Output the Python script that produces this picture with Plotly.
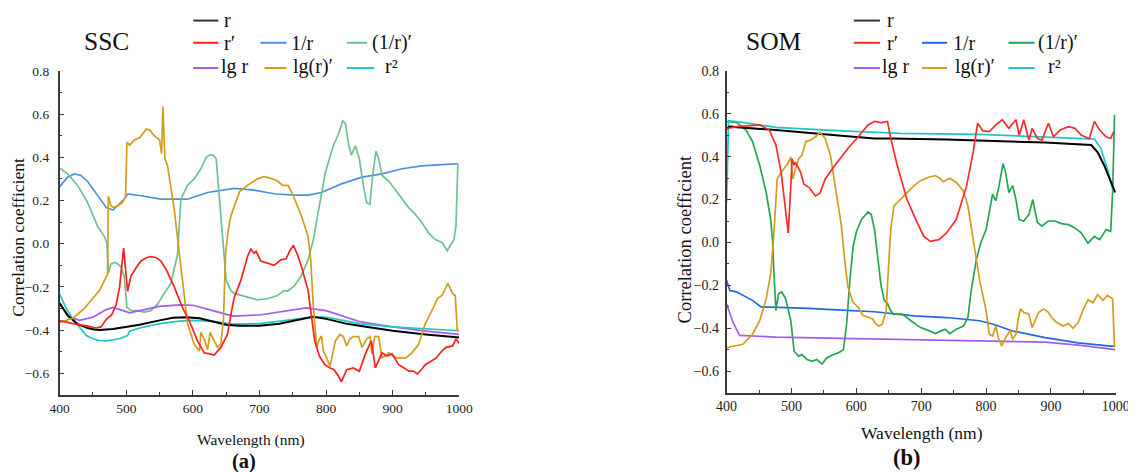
import plotly.graph_objects as go

W, H = 1136, 472

# ---------------- data: SSC (panel a) ----------------
ssc_r_wl = [400, 412, 427, 442, 452, 460, 480, 500, 520, 550, 570, 590, 610, 630, 650, 670, 700, 730, 760, 780, 800, 830, 850, 880, 900, 950, 1000]
ssc_r_val = [-0.275, -0.333, -0.372, -0.39, -0.397, -0.40, -0.395, -0.385, -0.375, -0.355, -0.343, -0.34, -0.345, -0.36, -0.375, -0.38, -0.38, -0.37, -0.35, -0.338, -0.348, -0.37, -0.38, -0.395, -0.403, -0.42, -0.434]

ssc_rp_wl = [400, 420, 440, 455, 462, 470, 478, 485, 490, 496, 502, 507, 515, 522, 530, 537, 545, 552, 560, 572, 585, 595, 607, 617, 625, 632, 642, 652, 657, 662, 672, 682, 687, 692, 695, 702, 712, 722, 732, 740, 746, 751, 757, 763, 773, 783, 790, 798, 806, 812, 818, 823, 831, 841, 850, 859, 868, 874, 884, 891, 899, 909, 917, 924, 931, 937, 944, 949, 957, 965, 973, 980, 990, 995, 1000]
ssc_rp_val = [-0.356, -0.37, -0.38, -0.39, -0.385, -0.35, -0.33, -0.28, -0.2, -0.02, -0.22, -0.15, -0.11, -0.08, -0.065, -0.06, -0.065, -0.08, -0.12, -0.2, -0.3, -0.36, -0.45, -0.505, -0.51, -0.515, -0.48, -0.42, -0.33, -0.25, -0.17, -0.06, -0.025, -0.044, -0.035, -0.08, -0.09, -0.1, -0.075, -0.07, -0.03, -0.008, -0.05, -0.106, -0.216, -0.45, -0.52, -0.56, -0.575, -0.583, -0.61, -0.64, -0.583, -0.575, -0.59, -0.51, -0.45, -0.575, -0.505, -0.52, -0.51, -0.56, -0.575, -0.59, -0.59, -0.603, -0.58, -0.56, -0.545, -0.53, -0.5, -0.48, -0.473, -0.442, -0.46]

ssc_inv_wl = [400, 412, 422, 432, 442, 457, 470, 480, 487, 497, 502, 522, 552, 592, 622, 662, 692, 724, 754, 773, 793, 823, 854, 884, 914, 944, 974, 998]
ssc_inv_val = [0.264, 0.308, 0.323, 0.316, 0.288, 0.222, 0.167, 0.156, 0.175, 0.206, 0.23, 0.222, 0.206, 0.206, 0.237, 0.256, 0.248, 0.23, 0.225, 0.225, 0.237, 0.277, 0.308, 0.323, 0.347, 0.36, 0.366, 0.37]

ssc_invp_wl = [400, 412, 427, 442, 457, 467, 471, 473, 477, 484, 492, 497, 501, 507, 517, 527, 537, 547, 557, 567, 577, 582, 592, 602, 612, 620, 625, 630, 635, 640, 646, 650, 657, 662, 682, 697, 712, 727, 737, 742, 752, 762, 773, 781, 789, 799, 811, 819, 825, 829, 834, 838, 844, 850, 856, 861, 866, 870, 875, 879, 884, 894, 904, 914, 924, 934, 944, 954, 964, 974, 982, 987, 992, 995, 998]
ssc_invp_val = [0.35, 0.323, 0.27, 0.19, 0.08, 0.034, 0.003, -0.137, -0.094, -0.087, -0.106, -0.153, -0.294, -0.31, -0.31, -0.317, -0.31, -0.28, -0.23, -0.184, -0.05, 0.206, 0.27, 0.30, 0.347, 0.40, 0.41, 0.41, 0.394, 0.206, -0.01, -0.17, -0.216, -0.23, -0.247, -0.26, -0.255, -0.24, -0.216, -0.22, -0.197, -0.153, -0.075, 0.02, 0.16, 0.33, 0.456, 0.51, 0.569, 0.558, 0.456, 0.41, 0.453, 0.394, 0.27, 0.19, 0.183, 0.316, 0.428, 0.394, 0.316, 0.29, 0.25, 0.206, 0.167, 0.136, 0.097, 0.05, 0.019, 0.006, -0.033, -0.005, 0.019, 0.08, 0.37]

ssc_lg_wl = [400, 415, 430, 450, 470, 480, 495, 505, 520, 550, 580, 600, 630, 660, 700, 740, 770, 800, 830, 850, 900, 950, 1000]
ssc_lg_val = [-0.28, -0.34, -0.355, -0.34, -0.305, -0.295, -0.31, -0.32, -0.31, -0.29, -0.283, -0.285, -0.31, -0.335, -0.33, -0.31, -0.297, -0.31, -0.34, -0.36, -0.385, -0.405, -0.42]

ssc_lgp_wl = [400, 420, 437, 450, 460, 472, 473, 477, 481, 487, 494, 499, 501, 505, 512, 520, 530, 535, 542, 550, 553, 555, 558, 562, 572, 578, 585, 592, 602, 610, 612, 618, 622, 626, 632, 637, 642, 646, 649, 653, 657, 662, 670, 682, 697, 707, 717, 727, 735, 743, 751, 763, 773, 777, 781, 786, 789, 793, 796, 801, 806, 814, 821, 826, 831, 836, 841, 849, 854, 861, 866, 869, 873, 879, 884, 894, 907, 919, 929, 939, 949, 959, 967, 974, 983, 990, 994, 997, 999]
ssc_lgp_val = [-0.364, -0.345, -0.30, -0.25, -0.216, -0.14, 0.22, 0.175, 0.167, 0.175, 0.19, 0.22, 0.47, 0.456, 0.48, 0.49, 0.53, 0.527, 0.50, 0.48, 0.417, 0.636, 0.394, 0.36, 0.16, 0.0, -0.184, -0.37, -0.465, -0.497, -0.41, -0.45, -0.49, -0.41, -0.45, -0.48, -0.465, -0.35, -0.05, 0.06, 0.128, 0.175, 0.24, 0.27, 0.30, 0.31, 0.303, 0.29, 0.27, 0.27, 0.22, 0.128, 0.034, -0.075, -0.294, -0.48, -0.45, -0.427, -0.497, -0.53, -0.567, -0.45, -0.42, -0.43, -0.473, -0.44, -0.43, -0.43, -0.48, -0.44, -0.43, -0.51, -0.43, -0.43, -0.53, -0.505, -0.53, -0.53, -0.505, -0.466, -0.37, -0.31, -0.255, -0.24, -0.184, -0.23, -0.24, -0.40, -0.40]

ssc_sq_wl = [400, 410, 420, 430, 440, 450, 460, 470, 490, 502, 505, 520, 550, 580, 600, 630, 660, 700, 740, 780, 800, 850, 900, 950, 1000]
ssc_sq_val = [-0.234, -0.30, -0.35, -0.39, -0.425, -0.44, -0.448, -0.45, -0.44, -0.425, -0.405, -0.39, -0.37, -0.358, -0.355, -0.36, -0.372, -0.37, -0.355, -0.34, -0.34, -0.37, -0.385, -0.395, -0.403]

# ---------------- data: SOM (panel b) ----------------
som_r_wl = [400, 405, 476, 527, 577, 628, 653, 739, 841, 891, 962, 972, 982, 992, 999]
som_r_val = [0.53, 0.54, 0.524, 0.509, 0.497, 0.485, 0.485, 0.48, 0.469, 0.466, 0.454, 0.42, 0.36, 0.28, 0.233]

som_rp_wl = [400, 415, 451, 466, 476, 484, 489, 495, 499, 501, 504, 506, 514, 519, 527, 537, 544, 552, 567, 587, 603, 618, 628, 638, 648, 653, 663, 678, 694, 704, 714, 727, 739, 754, 770, 780, 787, 795, 805, 815, 825, 835, 846, 851, 858, 866, 871, 879, 886, 896, 904, 914, 927, 937, 947, 959, 967, 975, 985, 992, 997]
som_rp_val = [0.53, 0.54, 0.548, 0.524, 0.454, 0.328, 0.20, 0.044, 0.265, 0.39, 0.36, 0.375, 0.328, 0.272, 0.257, 0.217, 0.23, 0.296, 0.36, 0.438, 0.493, 0.548, 0.564, 0.559, 0.564, 0.485, 0.36, 0.20, 0.091, 0.028, 0.005, 0.013, 0.044, 0.107, 0.265, 0.42, 0.556, 0.52, 0.517, 0.548, 0.572, 0.532, 0.572, 0.50, 0.572, 0.477, 0.532, 0.485, 0.477, 0.556, 0.493, 0.524, 0.54, 0.532, 0.50, 0.485, 0.564, 0.524, 0.493, 0.485, 0.517]

som_inv_wl = [400, 405, 415, 430, 440, 453, 476, 527, 577, 628, 666, 689, 739, 790, 810, 841, 891, 942, 992, 999]
som_inv_val = [-0.176, -0.224, -0.23, -0.255, -0.27, -0.3, -0.302, -0.307, -0.315, -0.323, -0.335, -0.342, -0.35, -0.365, -0.38, -0.413, -0.444, -0.468, -0.483, -0.483]

som_invp_wl = [400, 415, 430, 440, 451, 461, 468, 471, 473, 476, 480, 485, 491, 499, 504, 511, 516, 524, 532, 539, 547, 554, 562, 572, 580, 585, 590, 595, 600, 608, 618, 623, 628, 634, 638, 643, 648, 653, 658, 666, 671, 684, 699, 711, 722, 732, 737, 744, 754, 765, 772, 777, 785, 792, 800, 810, 815, 820, 826, 830, 835, 841, 846, 851, 858, 866, 872, 879, 886, 896, 906, 916, 927, 937, 947, 957, 967, 975, 985, 992, 995, 998]
som_invp_val = [0.564, 0.56, 0.524, 0.47, 0.36, 0.233, 0.107, 0.0, -0.145, -0.318, -0.24, -0.23, -0.263, -0.365, -0.507, -0.53, -0.523, -0.546, -0.554, -0.546, -0.567, -0.54, -0.526, -0.515, -0.5, -0.38, -0.176, -0.02, 0.05, 0.107, 0.142, 0.13, 0.06, -0.08, -0.2, -0.27, -0.285, -0.318, -0.335, -0.334, -0.334, -0.365, -0.397, -0.41, -0.425, -0.41, -0.405, -0.425, -0.405, -0.39, -0.35, -0.224, -0.08, 0.0, 0.06, 0.225, 0.194, 0.265, 0.367, 0.328, 0.233, 0.265, 0.2, 0.107, 0.1, 0.13, 0.2, 0.094, 0.076, 0.1, 0.1, 0.088, 0.083, 0.068, 0.044, -0.003, 0.028, 0.013, 0.06, 0.052, 0.233, 0.595]

som_lg_wl = [400, 410, 420, 476, 577, 668, 739, 841, 891, 942, 999]
som_lg_val = [-0.287, -0.373, -0.433, -0.441, -0.447, -0.452, -0.455, -0.46, -0.465, -0.479, -0.5]

som_lgp_wl = [400, 425, 440, 451, 461, 468, 472, 476, 478, 486, 494, 499, 502, 506, 511, 516, 522, 529, 537, 544, 552, 560, 565, 572, 577, 582, 587, 595, 603, 610, 618, 625, 630, 635, 640, 646, 649, 653, 658, 668, 678, 689, 699, 711, 722, 729, 734, 744, 754, 765, 772, 777, 782, 786, 790, 800, 805, 810, 815, 819, 824, 830, 837, 841, 846, 850, 853, 858, 866, 871, 876, 881, 889, 896, 901, 909, 919, 927, 934, 942, 949, 957, 965, 972, 980, 987, 995, 998]
som_lgp_val = [-0.491, -0.475, -0.428, -0.365, -0.263, -0.145, 0.0, 0.233, 0.296, 0.335, 0.367, 0.398, 0.296, 0.343, 0.39, 0.406, 0.47, 0.477, 0.493, 0.513, 0.485, 0.406, 0.312, 0.186, 0.076, -0.08, -0.208, -0.28, -0.302, -0.34, -0.35, -0.357, -0.38, -0.39, -0.38, -0.318, -0.145, 0.06, 0.17, 0.2, 0.233, 0.265, 0.288, 0.304, 0.312, 0.299, 0.283, 0.299, 0.28, 0.24, 0.17, 0.076, -0.03, -0.1, -0.176, -0.318, -0.428, -0.436, -0.39, -0.444, -0.483, -0.444, -0.41, -0.452, -0.428, -0.35, -0.31, -0.326, -0.334, -0.397, -0.365, -0.326, -0.31, -0.326, -0.35, -0.373, -0.39, -0.378, -0.4, -0.373, -0.318, -0.268, -0.28, -0.243, -0.27, -0.247, -0.263, -0.49]

som_sq_wl = [400, 403, 425, 476, 577, 638, 668, 790, 891, 967, 977, 987, 996]
som_sq_val = [0.186, 0.568, 0.56, 0.537, 0.52, 0.513, 0.509, 0.504, 0.493, 0.482, 0.438, 0.343, 0.24]

series_names = ["r", "r′", "1/r", "(1/r)′", "lg r", "lg(r)′", "r²"]
x_ticks = [400, 500, 600, 700, 800, 900, 1000]
y_ticks = [-0.6, -0.4, -0.2, 0.0, 0.2, 0.4, 0.6, 0.8]
panel_titles = ["SSC", "SOM"]
panel_labels = ["(a)", "(b)"]

# ---------------- styling ----------------
colors_a = ["#000000", "#ff1f1f", "#4f8fe3", "#6cc28f", "#a25cf2", "#d29d1c", "#1fc6c6"]
colors_b = ["#000000", "#ff2a2a", "#1f68e0", "#25a554", "#a25cf2", "#d29d1c", "#1fc6c6"]
SERIF = "Liberation Serif"

# the page is shown shifted/scaled slightly; positions below are target screen pixels
OFFX, OFFY, SC = 17.5, 18.0, 0.975

def fx(p):
    return (p - OFFX) / SC

def fy(p):
    return (p - OFFY) / SC

def fs(s):
    return round(2 * s / SC) / 2

def px_x(v):
    return fx(v) / W

def px_y(v):
    return 1 - fy(v) / H

panels = [
    dict(data=[(ssc_r_wl, ssc_r_val), (ssc_rp_wl, ssc_rp_val), (ssc_inv_wl, ssc_inv_val),
               (ssc_invp_wl, ssc_invp_val), (ssc_lg_wl, ssc_lg_val), (ssc_lgp_wl, ssc_lgp_val),
               (ssc_sq_wl, ssc_sq_val)],
         colors=colors_a, xd=(59, 457), yd=(73.3, 394), ax="x", ay="y", tick=13, stand=6),
    dict(data=[(som_r_wl, som_r_val), (som_rp_wl, som_rp_val), (som_inv_wl, som_inv_val),
               (som_invp_wl, som_invp_val), (som_lg_wl, som_lg_val), (som_lgp_wl, som_lgp_val),
               (som_sq_wl, som_sq_val)],
         colors=colors_b, xd=(723.3, 1111), yd=(73.3, 391.7), ax="x2", ay="y2", tick=13.6, stand=3),
]

fig = go.Figure()
draw_order = [2, 3, 4, 6, 0, 5, 1]
for p in panels:
    for i in draw_order:
        wl, val = p["data"][i]
        fig.add_trace(go.Scatter(x=wl, y=val, mode="lines", xaxis=p["ax"], yaxis=p["ay"],
                                 line=dict(color=p["colors"][i], width=1.7 if i else 2.0),
                                 showlegend=False, hoverinfo="skip"))

layout = dict(width=W, height=H, margin=dict(l=0, r=0, t=0, b=0),
              paper_bgcolor="white", plot_bgcolor="white", showlegend=False)
for k, p in enumerate(panels):
    sfx = "" if k == 0 else "2"
    tf = dict(family=SERIF, size=fs(p["tick"]), color="#222")
    layout["xaxis" + sfx] = dict(
        domain=[px_x(p["xd"][0]), px_x(p["xd"][1])], range=[400, 1000],
        anchor="y" + sfx, showline=True, linecolor="#3a3a3a", linewidth=1.5,
        ticks="inside", ticklen=5, tickwidth=1.2, tickcolor="#3a3a3a",
        tickvals=x_ticks, showgrid=False, zeroline=False, tickfont=tf,
        minor=dict(dtick=50, ticks="inside", ticklen=3, tickwidth=1.2, tickcolor="#3a3a3a", showgrid=False),
    )
    layout["yaxis" + sfx] = dict(
        domain=[px_y(p["yd"][1]), px_y(p["yd"][0])], range=[-0.7, 0.8],
        anchor="x" + sfx, showline=True, linecolor="#3a3a3a", linewidth=1.5,
        ticks="inside", ticklen=5, tickwidth=1.2, tickcolor="#3a3a3a",
        tickvals=y_ticks, tickformat=".1f", showgrid=False, zeroline=False, tickfont=tf,
        ticklabelstandoff=p["stand"],
        minor=dict(dtick=0.1, ticks="inside", ticklen=3, tickwidth=1.2, tickcolor="#3a3a3a", showgrid=False),
    )
fig.update_layout(**layout)

shapes = []
ann = []

def add_text(x, y, text, size, weight="normal", **kw):
    d = dict(x=px_x(x), y=px_y(y), xref="paper", yref="paper", text=text, showarrow=False,
             font=dict(family=SERIF, size=fs(size), color="#111", weight=weight),
             xanchor=kw.pop("xanchor", "center"), yanchor="middle", borderpad=0)
    d.update(kw)
    ann.append(d)

# legends (line sample x0, x1, text x, row)
leg_a = [(192, 217, 222, 0), (192, 217, 222, 1), (259, 285, 288, 1), (345, 365, 369, 1),
         (192, 217, 219, 2), (263, 285, 290, 2), (345, 372, 382, 2)]
leg_b = [(850, 876, 882, 0), (850, 876, 882, 1), (918, 943, 948, 1), (1004, 1030, 1032, 1),
         (850, 876, 877, 2), (918, 943, 950, 2), (1004, 1030, 1042, 2)]
row_line_y = [23.5, 45.5, 70.5]
row_text_y = [23, 45.5, 68.5]
for leg, cols in ((leg_a, colors_a), (leg_b, colors_b)):
    for i, (x0, x1, tx, row) in enumerate(leg):
        shapes.append(dict(type="line", xref="paper", yref="paper", x0=px_x(x0), x1=px_x(x1),
                           y0=px_y(row_line_y[row]), y1=px_y(row_line_y[row]),
                           line=dict(color=cols[i] if i else "#333", width=2)))
        add_text(tx, row_text_y[row], series_names[i], 19.5, xanchor="left")

add_text(106, 44, panel_titles[0], 25)
add_text(770, 44, panel_titles[1], 25)

add_text(18, 238, "Correlation coefficient", 17, textangle=-90)
add_text(682, 240, "Correlation coefficient", 18, textangle=-90)
add_text(250, 439, "Wavelength (nm)", 15)
add_text(918, 432, "Wavelength (nm)", 17)
add_text(243, 460, panel_labels[0], 20, weight="bold")
add_text(903, 456, panel_labels[1], 22, weight="bold")

fig.update_layout(shapes=shapes, annotations=ann)
fig.write_html("out.html")
